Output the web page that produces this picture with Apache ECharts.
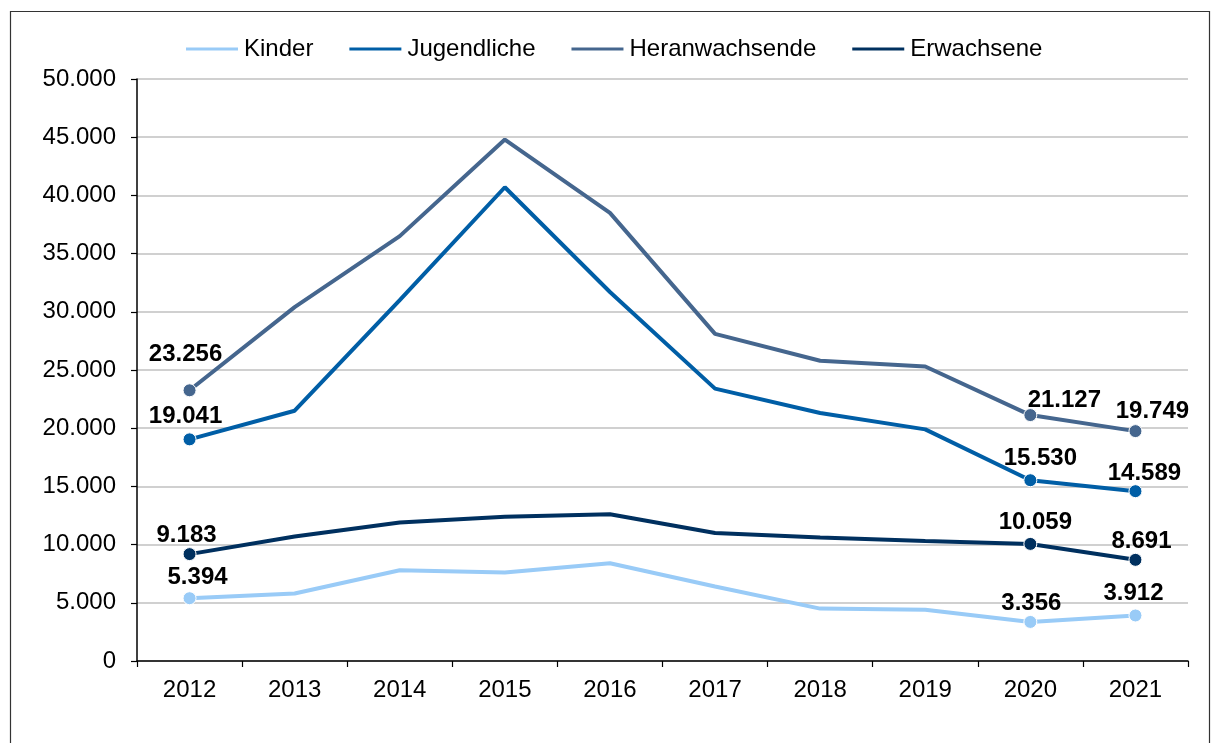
<!DOCTYPE html>
<html>
<head>
<meta charset="utf-8">
<script src="https://cdn.jsdelivr.net/npm/echarts@6/dist/echarts.min.js"></script>
<style>
  html, body { margin: 0; padding: 0; background: #fff; }
  #main { width: 1214px; height: 743px; }
</style>
</head>
<body>
<div id="main"></div>
<script>
var years = ['2012', '2013', '2014', '2015', '2016', '2017', '2018', '2019', '2020', '2021'];
var kinder = [5394, 5800, 7800, 7600, 8400, 6400, 4500, 4400, 3356, 3912];
var jugendliche = [19041, 21500, 31000, 40700, 31700, 23400, 21300, 19900, 15530, 14589];
var heranwachsende = [23256, 30400, 36500, 44800, 38500, 28100, 25800, 25300, 21127, 19749];
var erwachsene = [9183, 10700, 11900, 12400, 12600, 11000, 10600, 10300, 10059, 8691];
var labelled = [0, 8, 9];

var chart = echarts.init(document.getElementById('main'));

function fmt(v) {
    return String(v).replace(/\B(?=(\d{3})+(?!\d))/g, '.');
}

// only the first and last two years get a dot and a value
function points(values, offsets) {
    return values.map(function (v, i) {
        var k = labelled.indexOf(i);
        if (k < 0) return { value: v, symbolSize: 0 };
        return {
            value: v,
            symbolSize: 13,
            label: { show: true, offset: offsets[k] }
        };
    });
}

function line(name, color, values, offsets) {
    return {
        name: name,
        type: 'line',
        data: points(values, offsets),
        symbol: 'circle',
        showAllSymbol: true,
        color: color,
        lineStyle: { width: 4, color: color },
        itemStyle: { color: color, borderColor: '#fff', borderWidth: 1 },
        label: {
            position: 'top',
            distance: 2,
            color: '#000',
            fontSize: 24,
            fontWeight: 'bold',
            fontFamily: 'Liberation Sans',
            formatter: function (p) { return fmt(p.value); }
        },
        emphasis: { disabled: true },
        z: 3
    };
}

option = {
    animation: false,
    textStyle: { fontFamily: 'Liberation Sans' },
    graphic: [{
        type: 'rect',
        left: 8, top: 9,
        shape: { width: 1199, height: 760 },
        style: { fill: 'none', stroke: '#333', lineWidth: 1.2 },
        silent: true
    }],
    legend: {
        top: 32,
        left: 179,
        itemWidth: 54,
        itemHeight: 5,
        itemGap: 34,
        icon: 'rect',
        textStyle: { fontSize: 24, color: '#000', fontFamily: 'Liberation Sans' },
        data: ['Kinder', 'Jugendliche', 'Heranwachsende', 'Erwachsene']
    },
    grid: { left: 137, right: 26, top: 79, bottom: 82 },
    xAxis: {
        type: 'category',
        data: years,
        boundaryGap: true,
        axisLine: { lineStyle: { color: '#000', width: 1.5 } },
        axisTick: { show: true, length: 6, lineStyle: { color: '#000', width: 1.2 } },
        axisLabel: { fontSize: 24, color: '#000', margin: 17 }
    },
    yAxis: {
        type: 'value',
        min: 0,
        max: 50000,
        interval: 5000,
        axisLine: { show: true, lineStyle: { color: '#000', width: 1.5 } },
        axisTick: { show: true, length: 6, lineStyle: { color: '#000', width: 1.2 } },
        splitLine: { lineStyle: { color: '#c0c0c0', width: 1.5 } },
        axisLabel: { fontSize: 24, color: '#000', margin: 21, formatter: fmt }
    },
    series: [
        line('Kinder', '#99cbf7', kinder, [[8, 0], [1, 2], [-2, -1]]),
        line('Jugendliche', '#005ea6', jugendliche, [[-4, -2], [10, -1], [9, 3]]),
        line('Heranwachsende', '#45668e', heranwachsende, [[-4, -15], [34, 6], [17, 1]]),
        line('Erwachsene', '#00305f', erwachsene, [[-3, 2], [5, -1], [6, 3]])
    ]
};
option && chart.setOption(option);
</script>
</body>
</html>
